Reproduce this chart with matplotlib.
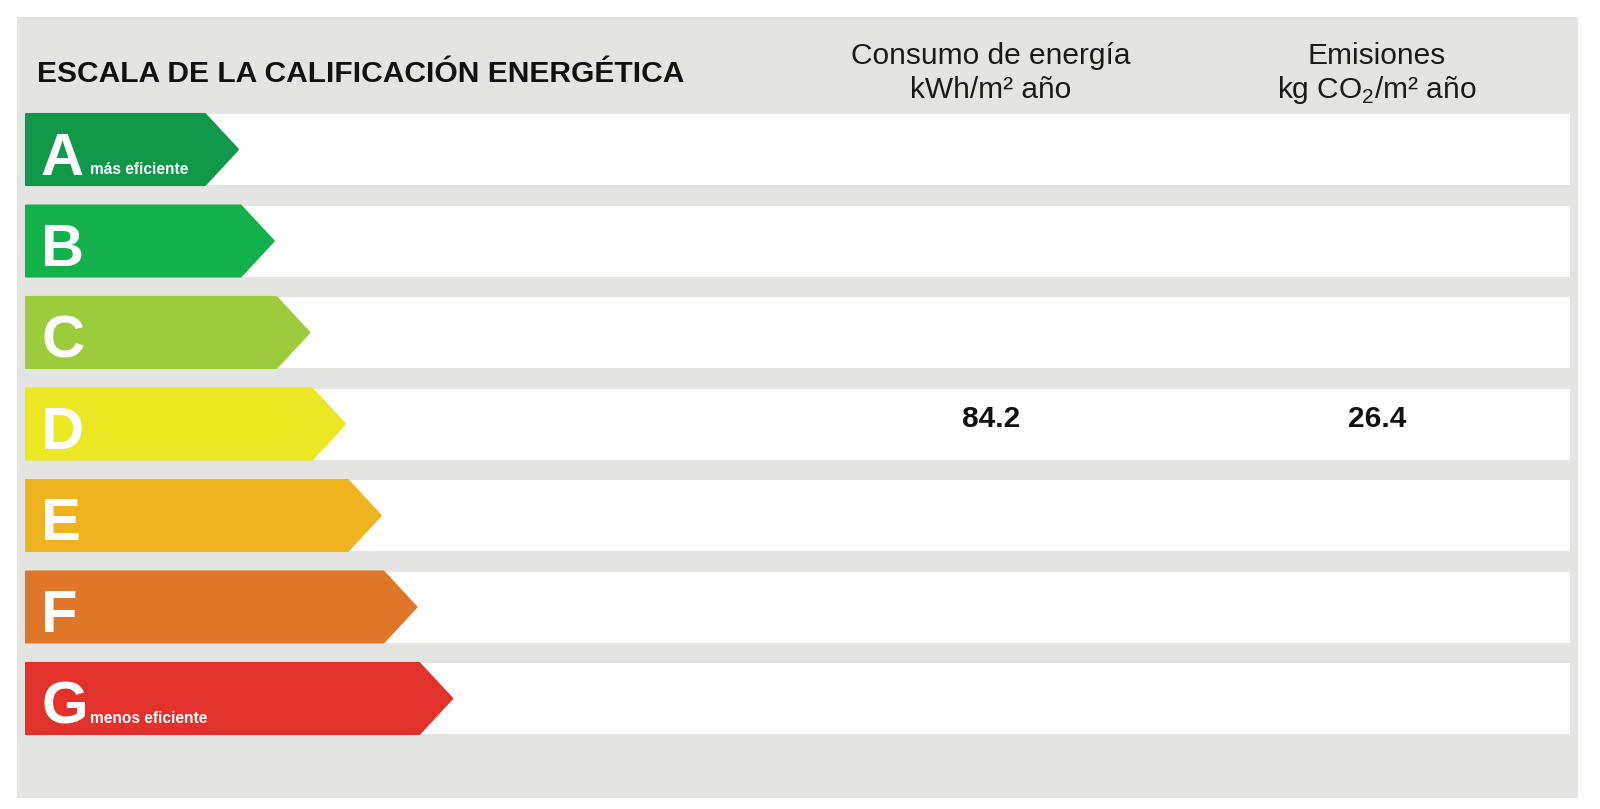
import matplotlib
matplotlib.use('Agg')
import matplotlib.pyplot as plt
from matplotlib.patches import Rectangle, Polygon

plt.rcParams['font.family'] = ['Liberation Sans', 'DejaVu Sans']
plt.rcParams['mathtext.fontset'] = 'custom'
plt.rcParams['mathtext.rm'] = 'Liberation Sans'

# data
ratings = ['A', 'B', 'C', 'D', 'E', 'F', 'G']
rating_colors = ['#0f9848', '#13b14b', '#9ccb3c', '#ebe722', '#eeb31f', '#e07728', '#e2302a']
sub_labels = {'A': 'más eficiente', 'G': 'menos eficiente'}
current_rating = 'D'
consumo = 84.2      # kWh/m2 año
emisiones = 26.4    # kg CO2/m2 año

title = 'ESCALA DE LA CALIFICACIÓN ENERGÉTICA'
col_headers = [['Consumo de energía', 'kWh/m² año'],
               ['Emisiones', r'kg CO$_{\mathrm{2}}$/m² año']]

# layout (pixels)
W, H = 1600, 809
gray = '#e4e5e3'
row_c0, row_pitch, row_half = 149.5, 91.5, 35.5
arrow_x0, tip0, tip_step, depth = 26, 238, 35.7, 33
col_x = [991, 1377]

fig = plt.figure(figsize=(W / 100, H / 100), dpi=100)
ax = fig.add_axes([0, 0, 1, 1])
ax.set_xlim(0, W)
ax.set_ylim(H, 0)
ax.axis('off')

# background panel
ax.add_patch(Rectangle((17, 17), 1561, 781, facecolor=gray, edgecolor='none'))

ax.text(37, 82, title, fontsize=21.6, fontweight='bold', color='#111111',
        ha='left', va='baseline')
for cx, (l1, l2) in zip(col_x, col_headers):
    ax.text(cx, 64, l1, fontsize=21.5, color='#1a1a1a', ha='center', va='baseline')
    ax.text(cx, 98, l2, fontsize=21.5, color='#1a1a1a', ha='center', va='baseline')

for i, (r, c) in enumerate(zip(ratings, rating_colors)):
    yc = row_c0 + i * row_pitch
    top, bot = yc - row_half, yc + row_half
    ax.add_patch(Rectangle((arrow_x0, top), 1570 - arrow_x0, bot - top,
                           facecolor='white', edgecolor='none'))
    tip = tip0 + i * tip_step
    pts = [(arrow_x0, top), (tip - depth, top), (tip, yc),
           (tip - depth, bot), (arrow_x0, bot)]
    ax.add_patch(Polygon(pts, closed=True, facecolor=c, edgecolor=c,
                         linewidth=1.5, joinstyle='round'))
    ax.text(41, yc + 25, r, fontsize=43, fontweight='bold', color='white',
            ha='left', va='baseline')
    if r in sub_labels:
        ax.text(90, yc + 24.5, sub_labels[r], fontsize=11.2, fontweight='bold',
                color='white', ha='left', va='baseline')
    if r == current_rating:
        for cx, v in zip(col_x, [consumo, emisiones]):
            ax.text(cx, yc + 3, f'{v:.1f}', fontsize=21.5, fontweight='bold',
                    color='#111111', ha='center', va='baseline')

fig.savefig('out.png', dpi=100, facecolor='white')
